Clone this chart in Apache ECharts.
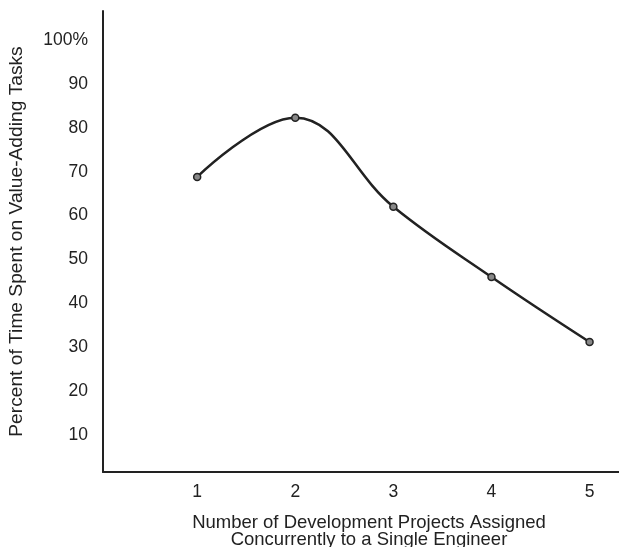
<!DOCTYPE html>
<html>
<head>
<meta charset="utf-8">
<script src="https://cdn.jsdelivr.net/npm/echarts@6/dist/echarts.min.js"></script>
<style>
html,body{margin:0;padding:0;background:#fff;}
#c{width:619px;height:547px;}
</style>
</head>
<body>
<div id="c"></div>
<script>
var projects = [1, 2, 3, 4, 5];
var percentValueAdding = [68.8, 82.3, 62.0, 46.0, 31.2];
var yTicks = [10, 20, 30, 40, 50, 60, 70, 80, 90, 100];
var xTicks = [1, 2, 3, 4, 5];
var xTitle = 'Number of Development Projects Assigned\nConcurrently to a Single Engineer';
var yTitle = 'Percent of Time Spent on Value-Adding Tasks';

var points = projects.map(function (p, i) { return [p, percentValueAdding[i]]; });
var ink = '#222';
var font = '"Liberation Sans", Arial, Helvetica, sans-serif';

var chart = echarts.init(document.getElementById('c'));
chart.setOption({
  backgroundColor: '#fff',
  animation: false,
  grid: { left: 103, right: 0, top: 11, bottom: 75, containLabel: false, outerBoundsMode: 'none' },
  xAxis: {
    type: 'value',
    min: 0.04,
    max: 5.3,
    name: xTitle,
    nameLocation: 'middle',
    nameGap: 42,
    nameTextStyle: { color: ink, fontSize: 18.5, fontFamily: font, lineHeight: 17, padding: [0, 0, 0, 16] },
    axisLine: { show: true, lineStyle: { color: ink, width: 2 } },
    axisTick: { show: false },
    splitLine: { show: false },
    axisLabel: {
      customValues: xTicks,
      color: ink, fontSize: 17.5, fontFamily: font, margin: 11
    }
  },
  yAxis: {
    type: 'value',
    min: 1.6,
    max: 106.6,
    name: yTitle,
    nameLocation: 'middle',
    nameGap: 77,
    nameTextStyle: { color: ink, fontSize: 19.2, fontFamily: font },
    axisLine: { show: true, lineStyle: { color: ink, width: 2 } },
    axisTick: { show: false },
    splitLine: { show: false },
    axisLabel: {
      customValues: yTicks,
      color: ink, fontSize: 17.5, fontFamily: font, margin: 15,
      formatter: function (v) { return v === 100 ? '100%' : String(v); }
    }
  },
  series: [{
    type: 'line',
    data: points,
    smooth: 0.4,
    symbol: 'circle',
    symbolSize: 7,
    lineStyle: { color: ink, width: 2.5 },
    itemStyle: { color: '#888', borderColor: ink, borderWidth: 1.5 }
  }]
});
</script>
</body>
</html>
